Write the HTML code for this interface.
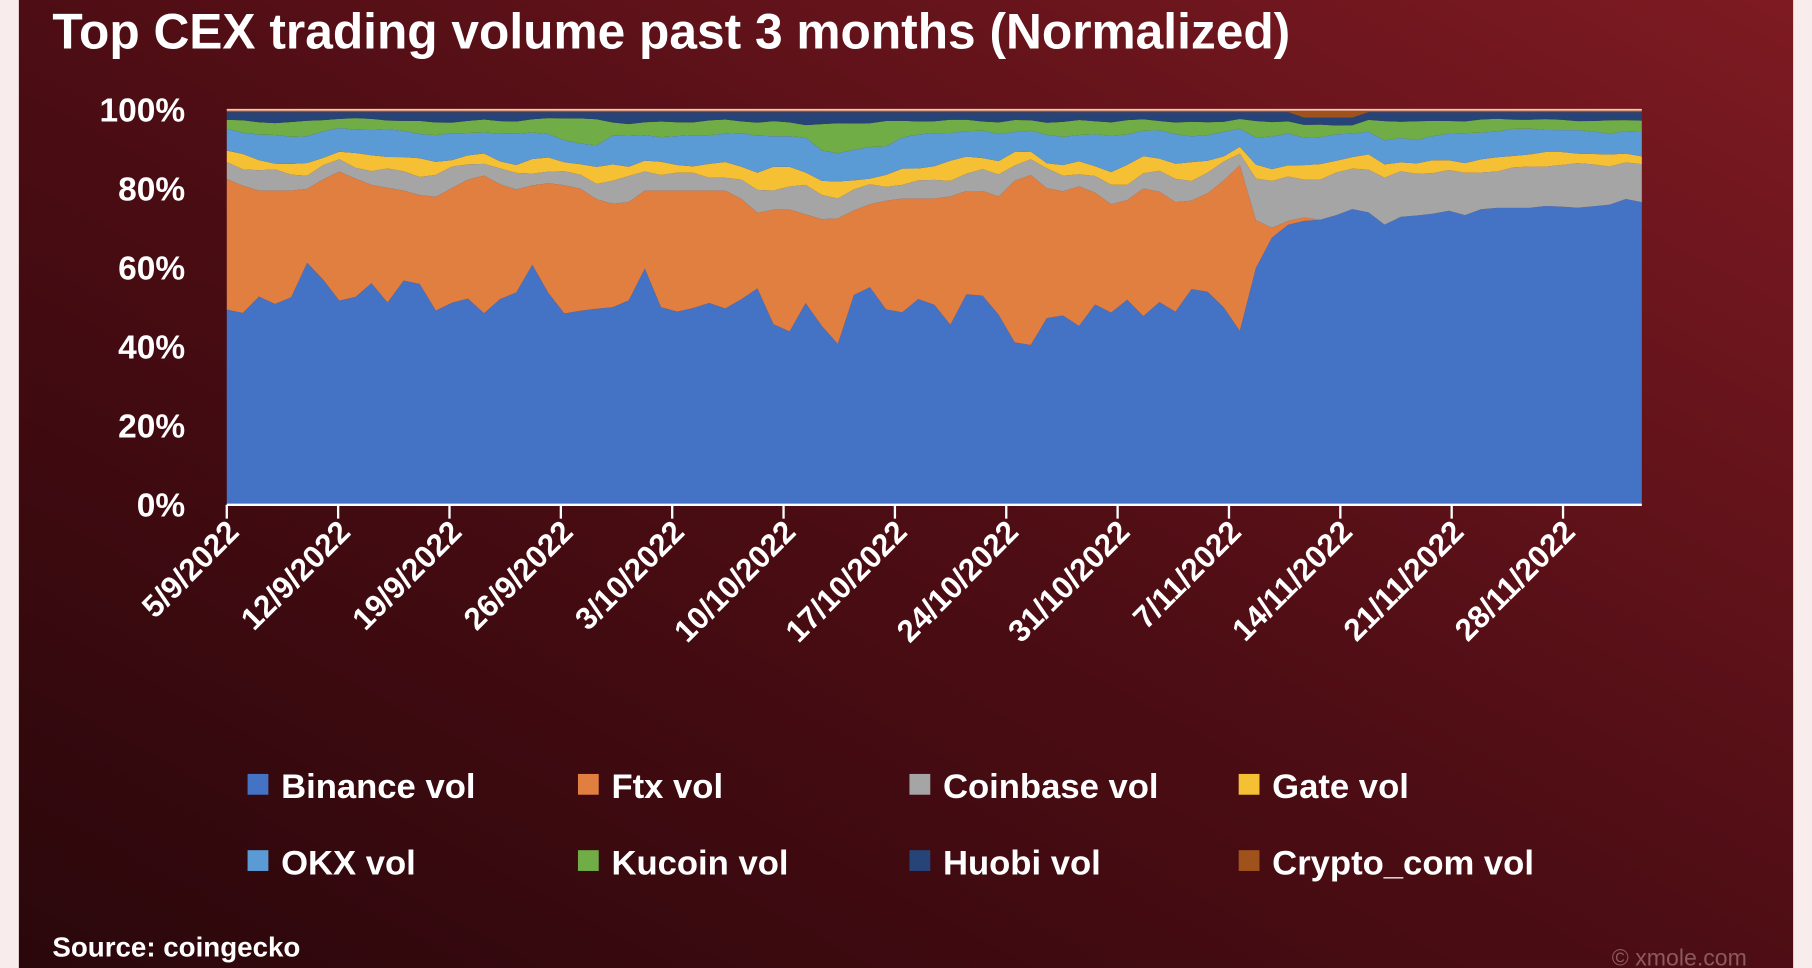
<!DOCTYPE html>
<html><head><meta charset="utf-8"><style>
html,body{margin:0;padding:0;background:#f9ecec;}
svg{display:block;}
text{font-family:"Liberation Sans",sans-serif;fill:#fff;}
</style></head><body>
<svg id="s" width="1812" height="968" viewBox="0 0 1568 838" xmlns="http://www.w3.org/2000/svg">
<defs>
<linearGradient id="bg" x1="1" y1="0" x2="0" y2="1">
<stop offset="0" stop-color="#7e1a22"/>
<stop offset="0.5" stop-color="#4e0d14"/>
<stop offset="1" stop-color="#2a070b"/>
</linearGradient>
</defs>
<rect x="0" y="0" width="1568" height="838" fill="#f9ecec"/>
<rect x="16" y="0" width="1536" height="838" fill="url(#bg)"/>
<text x="45" y="42" font-size="43" font-weight="bold">Top CEX trading volume past 3 months (Normalized)</text>
<g id="areas"></g>
<g id="axis"></g>
<g font-size="30" font-weight="bold">
<rect x="214" y="670" width="18" height="18" fill="#4472c4"/><text x="243" y="691">Binance vol</text>
<rect x="500" y="670" width="18" height="18" fill="#e07f40"/><text x="529" y="691">Ftx vol</text>
<rect x="787" y="670" width="18" height="18" fill="#a5a5a5"/><text x="816" y="691">Coinbase vol</text>
<rect x="1072" y="670" width="18" height="18" fill="#f5c033"/><text x="1101" y="691">Gate vol</text>
<rect x="214" y="736" width="18" height="18" fill="#5b9bd5"/><text x="243" y="757">OKX vol</text>
<rect x="500" y="736" width="18" height="18" fill="#70ad47"/><text x="529" y="757">Kucoin vol</text>
<rect x="787" y="736" width="18" height="18" fill="#264478"/><text x="816" y="757">Huobi vol</text>
<rect x="1072" y="736" width="18" height="18" fill="#a0521c"/><text x="1101" y="757">Crypto_com vol</text>
</g>
<text x="45" y="828" font-size="24" font-weight="bold" fill="#eee">Source: coingecko</text>
<text x="1395" y="836" font-size="20" style="fill:#8a5a5e">© xmole.com</text>
</svg>
<script>
(function(){
var NS="http://www.w3.org/2000/svg";
var X0=196,X1=1421,Y0=437,Y100=95,N=89;
function yp(p){return Y0-(Y0-Y100)*p/100;}
function pc(y){return (Y0-y)/(Y0-Y100)*100;}
function interp(pts,x){for(var i=0;i<pts.length-1;i++){if(x<=pts[i+1][0]){var a=pts[i],b=pts[i+1];var t=(x-a[0])/(b[0]-a[0]);return a[1]+t*(b[1]-a[1]);}}return pts[pts.length-1][1];}
var bn=[[196,268],[203,282],[220,255],[248,268],[263,225],[278,240],[292,260],[303,262],[320,243],[333,265],[349,243],[359,237],[374,270],[388,265],[401,252],[415,276],[429,258],[443,262],[458,225],[485,272],[508,268],[530,266],[541,272],[554,220],[568,265],[594,272],[607,260],[636,270],[651,240],[678,300],[692,265],[706,258],[719,320],[733,268],[747,238],[760,262],[775,275],[803,252],[817,282],[829,280],[843,232],[857,278],[870,268],[884,317],[898,285],[912,268],[938,285],[953,252],[966,280],[980,250],[994,285],[1008,250],[1022,280],[1036,235],[1050,262],[1063,268],[1076,292],[1090,215],[1104,203],[1118,192],[1145,190],[1160,185],[1173,180],[1188,185],[1202,198],[1215,185],[1229,187],[1256,182],[1270,187],[1284,180],[1312,180],[1325,180],[1340,178],[1366,180],[1394,177],[1408,172],[1421,175]];
var ft=[[196,155],[220,165],[263,165],[292,148],[320,160],[349,165],[374,172],[415,150],[443,165],[470,158],[500,162],[520,175],[541,178],[554,165],[594,165],[636,165],[651,185],[678,180],[719,192],[747,178],[775,172],[817,172],[843,163],[870,172],[884,145],[912,168],[938,160],[966,180],[994,160],[1022,178],[1050,165],[1076,140],[1090,205],[1104,195],[1118,190],[1130,188]];
function nz(i,k){return Math.sin(i*1.7+k*3.1)*0.5+Math.sin(i*0.53+k*1.3)*0.5;}
var layers=[[],[],[],[],[],[],[],[]],xs=[];
for(var i=0;i<N;i++){
 var x=X0+(X1-X0)*i/(N-1);xs.push(x);
 var b=pc(interp(bn,x));
 var f=x<1130?Math.max(0,pc(interp(ft,x))-b):0;
 var post=x>1085;
 var cb=post?9+nz(i,1)*1.5:3.5+nz(i,1)*1.2;
 var g=post?2.6+nz(i,2)*0.8:2.5+nz(i,2)*1.5;
 var o=5.5+nz(i,3)*1;
 var k=2.5+nz(i,4)*0.6; if(x>470&&x<530){k+=5*Math.sin((x-470)/60*Math.PI);} if(x>700&&x<780)k+=2; if(x>1190&&x<1230)k+=1.5;
 var h=1.8+nz(i,5)*0.4;
 var c=(x>1120&&x<1175)?2:0.6;
 var r=100-c-b-f, s=cb+g+o+k+h, sc=Math.max(0,r)/s;
 cb*=sc;g*=sc;o*=sc;k*=sc;h*=sc;
 var v=[b,f,cb,g,o,k,h,c];
 for(var j=0;j<8;j++)layers[j].push(v[j]);
}
var cols=["#4472c4","#e07f40","#a5a5a5","#f5c033","#5b9bd5","#70ad47","#264478","#a0521c"];
var g=document.getElementById("areas");
var base=xs.map(function(){return 0;});
for(var j=0;j<8;j++){
 var top=base.map(function(v,i){return v+layers[j][i];});
 var d="M"+xs[0]+","+yp(top[0]);
 for(var i=1;i<N;i++)d+="L"+xs[i].toFixed(1)+","+yp(top[i]).toFixed(1);
 for(var i=N-1;i>=0;i--)d+="L"+xs[i].toFixed(1)+","+yp(base[i]).toFixed(1);
 d+="Z";
 var p=document.createElementNS(NS,"path");p.setAttribute("d",d);p.setAttribute("fill",cols[j]);g.appendChild(p);
 base=top;
}
var ax=document.getElementById("axis");
function el(t,a,txt){var e=document.createElementNS(NS,t);for(var k in a)e.setAttribute(k,a[k]);if(txt)e.textContent=txt;ax.appendChild(e);return e;}
el("line",{x1:X0,y1:Y0,x2:X1,y2:Y0,stroke:"#fff","stroke-width":2});
el("line",{x1:X0,y1:Y100,x2:X1,y2:Y100,stroke:"#f3c9b8","stroke-width":1.5});
var yl=["0%","20%","40%","60%","80%","100%"];
for(var i=0;i<6;i++)el("text",{x:160,y:yp(i*20)+10,"font-size":29,"font-weight":"bold","text-anchor":"end"},yl[i]);
var dl=["5/9/2022","12/9/2022","19/9/2022","26/9/2022","3/10/2022","10/10/2022","17/10/2022","24/10/2022","31/10/2022","7/11/2022","14/11/2022","21/11/2022","28/11/2022"];
for(var i=0;i<dl.length;i++){var x=X0+i*96.4;
 el("line",{x1:x,y1:Y0,x2:x,y2:Y0+12,stroke:"#fff","stroke-width":2});
 el("text",{transform:"translate("+(x+12)+",462) rotate(-45)","font-size":27,"font-weight":"bold","text-anchor":"end"},dl[i]);}
})();
</script>
</body></html>
